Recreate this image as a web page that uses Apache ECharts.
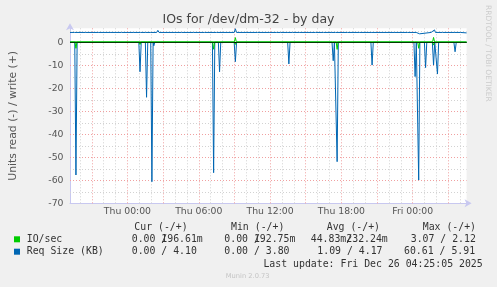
<!DOCTYPE html>
<html>
<head>
<meta charset="utf-8">
<script src="https://cdn.jsdelivr.net/npm/echarts@6/dist/echarts.min.js"></script>
<style>html,body{margin:0;padding:0;background:#f0f0f0;}#c{width:497px;height:287px;}</style>
</head>
<body>
<div id="c"></div>
<script>
// Time axis in hours relative to Thu 00:00
const xMin = -4.83;
const xMax = 28.53;
const xTickHours = [0, 6, 12, 18, 24];
const xTickLabels = ['Thu 00:00', 'Thu 06:00', 'Thu 12:00', 'Thu 18:00', 'Fri 00:00'];
const xMajorGridHours = [-3, 0, 3, 6, 9, 12, 15, 18, 21, 24, 27];
const xMinorGridHours = [-4, -2, -1, 1, 2, 4, 5, 7, 8, 10, 11, 13, 14, 16, 17, 19, 20, 22, 23, 25, 26, 28];
const yMajorGrid = [-60, -50, -40, -30, -20, -10];
const yMinorGrid = [-65, -55, -45, -35, -25, -15, -5, 5];
const yMin = -70, yMax = 6.1, yInterval = 10;

// Req Size (KB), read (plotted negative): [hour, value]
const reqRead = [
  [-4.83,0],[-4.43,0],[-4.33,57.7],[-4.23,0],
  [0.96,0],[1.06,12.8],[1.16,0],
  [1.51,0],[1.61,23.9],[1.71,0],
  [1.96,0],[2.06,60.61],[2.16,0],[2.22,1.5],[2.30,0],
  [7.15,0],[7.25,56.7],[7.35,0],
  [7.65,0],[7.75,12.8],[7.85,0],
  [8.98,0],[9.08,8.4],[9.18,0],
  [13.48,0],[13.58,9.4],[13.68,0],
  [17.21,0],[17.31,8.0],[17.41,0],
  [17.54,0],[17.64,51.9],[17.74,0],
  [20.48,0],[20.58,9.9],[20.68,0],
  [24.10,0],[24.20,14.9],[24.30,0],
  [24.40,0],[24.50,59.9],[24.60,0],
  [24.98,0],[25.08,11.0],[25.18,0],
  [25.65,0],[25.75,9.9],[25.85,0],
  [25.98,0],[26.08,13.8],[26.18,0],
  [27.46,0],[27.56,4.1],[27.66,0],
  [28.53,0]
];
// Req Size (KB), write: [hour, value]
const reqWrite = [
  [-4.83,4.3],
  [-4.46,4.3],[-4.38,3.7],[-4.30,4.3],
  [-3.50,4.3],[-3.42,3.7],[-3.34,4.3],
  [-2.46,4.3],[-2.38,3.7],[-2.30,4.3],
  [-1.46,4.3],[-1.38,3.7],[-1.30,4.3],
  [-0.50,4.3],[-0.42,3.7],[-0.34,4.3],
  [0.54,4.3],[0.62,3.7],[0.70,4.3],
  [1.09,4.3],[1.17,3.7],[1.25,4.3],
  [1.50,4.3],[1.58,3.7],[1.66,4.3],
  [1.92,4.3],[2.00,3.7],[2.08,4.3],
  [2.46,4.3],[2.56,5.2],[2.66,4.3],
  [3.50,4.3],[3.58,3.7],[3.66,4.3],
  [4.00,4.3],[4.08,3.7],[4.16,4.3],
  [4.56,4.3],[4.64,3.7],[4.72,4.3],
  [5.54,4.3],[5.62,3.7],[5.70,4.3],
  [6.50,4.3],[6.58,3.7],[6.66,4.3],
  [7.48,4.3],[7.56,3.7],[7.64,4.3],
  [8.04,4.3],[8.12,3.7],[8.20,4.3],
  [8.98,4.3],[9.08,5.91],[9.18,4.3],
  [9.98,4.3],[10.06,3.7],[10.14,4.3],
  [10.95,4.3],[11.03,3.7],[11.11,4.3],
  [11.92,4.3],[12.00,3.7],[12.08,4.3],
  [12.56,4.3],[12.64,3.7],[12.72,4.3],
  [12.89,4.3],[12.97,3.7],[13.05,4.3],
  [13.50,4.3],[13.58,3.7],[13.66,4.3],
  [13.87,4.3],[13.95,3.7],[14.03,4.3],
  [14.50,4.3],[14.58,3.7],[14.66,4.3],
  [15.45,4.3],[15.53,3.7],[15.61,4.3],
  [15.81,4.3],[15.89,3.7],[15.97,4.3],
  [16.50,4.3],[16.58,3.7],[16.66,4.3],
  [16.79,4.3],[16.87,3.7],[16.95,4.3],
  [17.20,4.3],[17.28,4.8],[17.36,4.3],
  [17.50,4.3],[17.58,4.8],[17.66,4.3],
  [18.50,4.3],[18.58,3.7],[18.66,4.3],
  [19.50,4.3],[19.58,3.7],[19.66,4.3],
  [20.50,4.3],[20.58,3.7],[20.66,4.3],
  [21.50,4.3],[21.58,3.7],[21.66,4.3],
  [22.50,4.3],[22.58,3.7],[22.66,4.3],
  [23.54,4.3],[23.62,3.7],[23.70,4.3],
  [24.29,4.3],[24.37,3.7],[24.45,4.3],
  [24.50,4.3],[24.58,3.7],[24.66,4.3],
  [25.54,4.3],[25.62,5.0],[25.70,4.3],
  [25.75,4.3],[25.83,5.4],[25.91,4.3],
  [26.50,4.3],[26.58,3.7],[26.66,4.3],
  [27.48,4.3],[27.56,3.7],[27.64,4.3],
  [28.00,4.3],[28.08,3.7],[28.16,4.3],
  [28.53,4.1]
];
// IO/sec, read (plotted negative)
const ioRead = [
  [-4.83,0],[-4.41,0],[-4.33,2.6],[-4.25,0],
  [0.98,0],[1.06,0.9],[1.14,0],
  [7.17,0],[7.25,3.0],[7.33,0],
  [9.00,0],[9.08,0.9],[9.16,0],
  [17.56,0],[17.64,3.07],[17.72,0],
  [24.42,0],[24.50,2.6],[24.58,0],
  [25.67,0],[25.75,1.2],[25.83,0],
  [28.53,0]
];
// IO/sec, write
const ioWrite = [
  [-4.83,0.23],[9.00,0.23],[9.08,2.05],[9.16,0.23],
  [17.23,0.23],[17.31,1.0],[17.39,0.23],
  [17.56,0.23],[17.64,1.0],[17.72,0.23],
  [24.12,0.23],[24.20,0.7],[24.28,0.23],
  [25.67,0.23],[25.75,2.12],[25.83,0.23],
  [28.53,0.197]
];

const legendHeaders = ['Cur (-/+)', 'Min (-/+)', 'Avg (-/+)', 'Max (-/+)'];
const legendNames = ['IO/sec', 'Req Size (KB)'];
const lastUpdate = 'Last update: Fri Dec 26 04:25:05 2025';

const chart = echarts.init(document.getElementById('c'), null, {renderer: 'canvas'});
const majorStyle = {color: '#f0a0a0', width: 1, type: [1, 2]};
const minorStyle = {color: '#d2d2d2', width: 1, type: [1, 2]};
const gridLines = []
  .concat(xMinorGridHours.map(h => ({xAxis: h, lineStyle: minorStyle})))
  .concat(yMinorGrid.map(v => ({yAxis: v, lineStyle: minorStyle})))
  .concat(xMajorGridHours.map(h => ({xAxis: h, lineStyle: majorStyle})))
  .concat(yMajorGrid.map(v => ({yAxis: v, lineStyle: majorStyle})));

const axisCol = '#c8c8f0';
const labelFont = {color: '#555', fontSize: 9.3, fontFamily: 'DejaVu Sans'};
const mono = '9.85px "DejaVu Sans Mono"';
const txt = (x, y, text, extra) => Object.assign({type: 'text', x: x, y: y, style: Object.assign({text: text, font: mono, fill: '#333', verticalAlign: 'middle', align: 'left'}, extra || {})});

const option = {
  animation: false,
  backgroundColor: '#f0f0f0',
  grid: {left: 66.3, top: 28.3, width: 400.3, height: 175, show: true, backgroundColor: '#ffffff', borderWidth: 0},
  xAxis: {
    type: 'value', min: xMin, max: xMax,
    splitLine: {show: false}, axisTick: {show: false},
    axisLine: {onZero: false, lineStyle: {color: axisCol}, symbol: ['none', 'arrow'], symbolSize: [6, 7], symbolOffset: [0, 5]},
    axisLabel: Object.assign({customValues: xTickHours, margin: 4, formatter: v => xTickLabels[xTickHours.indexOf(v)] || ''}, labelFont)
  },
  yAxis: {
    type: 'value', min: yMin, max: yMax, interval: yInterval,
    splitLine: {show: false}, axisTick: {show: false},
    axisLine: {show: true, onZero: false, lineStyle: {color: axisCol}, symbol: ['none', 'arrow'], symbolSize: [6, 7], symbolOffset: [0, 5]},
    axisLabel: Object.assign({showMaxLabel: false, margin: 6.5}, labelFont),
    name: 'Units read (-) / write (+)', nameLocation: 'middle', nameGap: 51,
    nameTextStyle: {color: '#555', fontSize: 10.8, fontFamily: 'DejaVu Sans'}
  },
  series: [
    {type: 'line', data: [], silent: true, markLine: {silent: true, z: 1, symbol: 'none', label: {show: false}, animation: false, data: gridLines}},
    {name: 'Req read', type: 'line', z: 2, data: reqRead.map(p => [p[0], -p[1]]), symbol: 'none', lineStyle: {color: '#0066b3', width: 1}, itemStyle: {color: '#0066b3'}},
    {name: 'Req write', type: 'line', z: 2, data: reqWrite, symbol: 'none', lineStyle: {color: '#0066b3', width: 1}, itemStyle: {color: '#0066b3'}},
    {name: 'IO read', type: 'line', z: 3, data: ioRead.map(p => [p[0], -p[1]]), symbol: 'none', lineStyle: {color: '#00cc00', width: 1}, itemStyle: {color: '#00cc00'}},
    {type: 'line', data: [], silent: true, markLine: {silent: true, z: 4, symbol: 'none', label: {show: false}, animation: false, data: [{yAxis: 0, lineStyle: {color: '#000', width: 1, type: 'solid'}}]}},
    {name: 'IO write', type: 'line', z: 5, data: ioWrite, symbol: 'none', lineStyle: {color: '#00cc00', width: 1}, itemStyle: {color: '#00cc00'}}
  ],
  graphic: [
    {type: 'text', x: 248.5, y: 19.3, style: {text: 'IOs for /dev/dm-32 - by day', font: '12.5px "DejaVu Sans"', fill: '#444', align: 'center', verticalAlign: 'middle'}},
    {type: 'text', x: 488, y: 5, rotation: -Math.PI / 2, style: {text: 'RRDTOOL / TOBI OETIKER', font: '7.5px "DejaVu Sans"', fill: '#cccccc', align: 'left', verticalAlign: 'middle'}},
    txt(134.3, 227.7, legendHeaders[0]),
    txt(231, 227.7, legendHeaders[1]),
    txt(326.7, 227.7, legendHeaders[2]),
    txt(422.7, 227.7, legendHeaders[3]),
    {type: 'rect', shape: {x: 14, y: 236.3, width: 6, height: 6}, style: {fill: '#00cc00'}},
    {type: 'rect', shape: {x: 14, y: 248.7, width: 6, height: 6}, style: {fill: '#0066b3'}},
    txt(26.7, 239.3, legendNames[0]),
    txt(26.7, 251.7, legendNames[1]),
    txt(131.7, 239.3, '0.00 /'), txt(161.3, 239.3, '196.61m'),
    txt(224.3, 239.3, '0.00 /'), txt(253.9, 239.3, '192.75m'),
    txt(310.7, 239.3, '44.83m/'), txt(346.3, 239.3, '232.24m'),
    txt(410.7, 239.3, '3.07 / 2.12'),
    txt(131.7, 251.7, '0.00 / 4.10'),
    txt(224.3, 251.7, '0.00 / 3.80'),
    txt(317.3, 251.7, '1.09 / 4.17'),
    txt(404, 251.7, '60.61 / 5.91'),
    txt(482.7, 264, lastUpdate, {align: 'right'}),
    {type: 'text', x: 247.7, y: 276, style: {text: 'Munin 2.0.73', font: '6.7px "DejaVu Sans"', fill: '#c4c4c4', align: 'center', verticalAlign: 'middle'}}
  ]
};
chart.setOption(option);
</script>
</body>
</html>
